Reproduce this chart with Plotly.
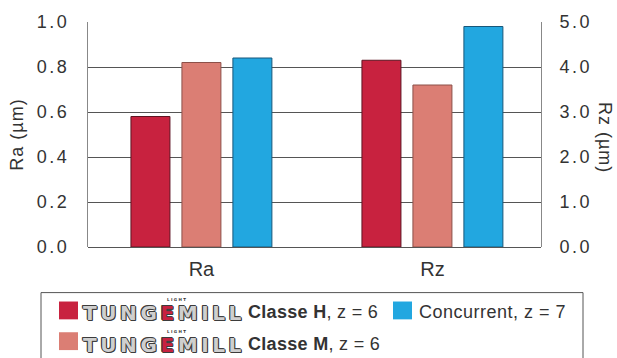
import plotly.graph_objects as go

# Surface roughness measured for each tool
metrics = ["Ra", "Rz"]
series_labels = ["Classe H, z = 6", "Classe M, z = 6", "Concurrent, z = 7"]
ra_values = [0.58, 0.82, 0.84]   # µm, left axis
rz_values = [4.15, 3.60, 4.90]   # µm, right axis
ra_ticks = [0.0, 0.2, 0.4, 0.6, 0.8, 1.0]
rz_ticks = [0.0, 1.0, 2.0, 3.0, 4.0, 5.0]

fill_colors = ["#C8223F", "#DB7E74", "#22A7E0"]
edge_colors = ["#5E1422", "#8C5049", "#17577A"]

W, H = 617, 358
L, R, T, B = 88, 76, 20, 111
PW, PH = W - L - R, H - T - B
FONT = "Liberation Sans, Arial, sans-serif"
TXT = "#333333"


def px(x):
    return (x - L) / PW


def py(y):
    return (H - B - y) / PH


def tracked(s, spacing):
    return f"<span style='letter-spacing:{spacing}px'>{s}</span>"


fig = go.Figure()
for i, name in enumerate(series_labels):
    fig.add_trace(go.Bar(
        x=[metrics[0]], y=[ra_values[i]], name=name, yaxis="y",
        marker=dict(color=fill_colors[i], line=dict(color=edge_colors[i], width=1)),
        showlegend=False,
    ))
for i, name in enumerate(series_labels):
    fig.add_trace(go.Bar(
        x=[metrics[1]], y=[rz_values[i]], name=name, yaxis="y2",
        marker=dict(color=fill_colors[i], line=dict(color=edge_colors[i], width=1)),
        showlegend=False,
    ))

shapes = []
annotations = []

# legend frame
shapes.append(dict(type="rect", xref="paper", yref="paper",
                   x0=px(41), x1=px(583), y0=py(293), y1=py(372),
                   line=dict(color="#555555", width=1), fillcolor="rgba(0,0,0,0)"))

# legend keys
for (x0, y0, c) in [(59, 302, fill_colors[0]), (393, 302, fill_colors[2]), (59, 333, fill_colors[1])]:
    shapes.append(dict(type="rect", xref="paper", yref="paper",
                       x0=px(x0), x1=px(x0 + 19), y0=py(y0), y1=py(y0 + 18),
                       line=dict(width=0), fillcolor=c))

outline = "#3C3C3C"
logo_shadow = (f"1px 0 0 {outline}, -1px 0 0 {outline}, 0 1px 0 {outline}, "
               f"0 -1px 0 {outline}, 1px 1px 0 {outline}, -1px -1px 0 {outline}")
logo_text = ("<span style='letter-spacing:3.6px'>TUNG"
             "<span style='fill:#C8223F'>E</span>MILL</span>")

for yc, cls in [(314, "H"), (346, "M")]:
    annotations.append(dict(
        xref="paper", yref="paper", x=px(81), y=py(yc), xanchor="left", yanchor="middle",
        text=logo_text, showarrow=False,
        font=dict(family="DejaVu Sans", size=20, weight="bold", color="#CFCFCF", shadow=logo_shadow),
    ))
    annotations.append(dict(
        xref="paper", yref="paper", x=px(165), y=py(yc - 14), xanchor="left", yanchor="middle",
        text="L I G H T", showarrow=False,
        font=dict(family="DejaVu Sans", size=4, weight="bold", color="#333333"),
    ))
    annotations.append(dict(
        xref="paper", yref="paper", x=px(246), y=py(yc - 1), xanchor="left", yanchor="middle",
        text=tracked(f"<b>Classe {cls}</b>, z = 6", 0.3), showarrow=False,
        font=dict(family=FONT, size=18, color=TXT),
    ))

annotations.append(dict(
    xref="paper", yref="paper", x=px(417), y=py(313), xanchor="left", yanchor="middle",
    text=tracked(series_labels[2], 0.5), showarrow=False,
    font=dict(family=FONT, size=18, color=TXT),
))

# right axis title, reading top to bottom
annotations.append(dict(
    xref="paper", yref="paper", x=px(605), y=py(136), xanchor="center", yanchor="middle",
    text=tracked("Rz (µm)", 1), textangle=90, showarrow=False,
    font=dict(family=FONT, size=18, color=TXT),
))

ra_text = [tracked(f"{v:.1f}", 2.5) for v in ra_ticks]
rz_text = [tracked(f"{v:.1f}", 2.5) for v in rz_ticks]

fig.update_layout(
    width=W, height=H,
    margin=dict(l=L, r=R, t=T, b=B, pad=0),
    paper_bgcolor="white", plot_bgcolor="white",
    barmode="group", bargap=0.338, bargroupgap=0.235,
    font=dict(family=FONT, size=18, color=TXT),
    xaxis=dict(type="category", categoryorder="array", categoryarray=metrics,
               range=[-0.491, 1.47], showgrid=False, showline=False, zeroline=False,
               ticks="", tickfont=dict(size=20, color=TXT), ticklabelstandoff=8),
    yaxis=dict(range=[0, 1], tickvals=ra_ticks, ticktext=ra_text,
               showgrid=True, gridcolor="#555555", gridwidth=1,
               zeroline=True, zerolinecolor="#555555", zerolinewidth=1,
               showline=True, linecolor="#888888", linewidth=1,
               ticks="", ticklabelstandoff=14, tickfont=dict(size=18, color=TXT),
               title=dict(text=tracked("Ra (µm)", 1), font=dict(size=18, color=TXT), standoff=8)),
    yaxis2=dict(range=[0, 5], tickvals=rz_ticks, ticktext=rz_text, overlaying="y", side="right",
                showgrid=False, zeroline=False,
                showline=True, linecolor="#888888", linewidth=1,
                ticks="", ticklabelstandoff=14, tickfont=dict(size=18, color=TXT)),
    shapes=shapes,
    annotations=annotations,
)

fig.write_html("out.html")
